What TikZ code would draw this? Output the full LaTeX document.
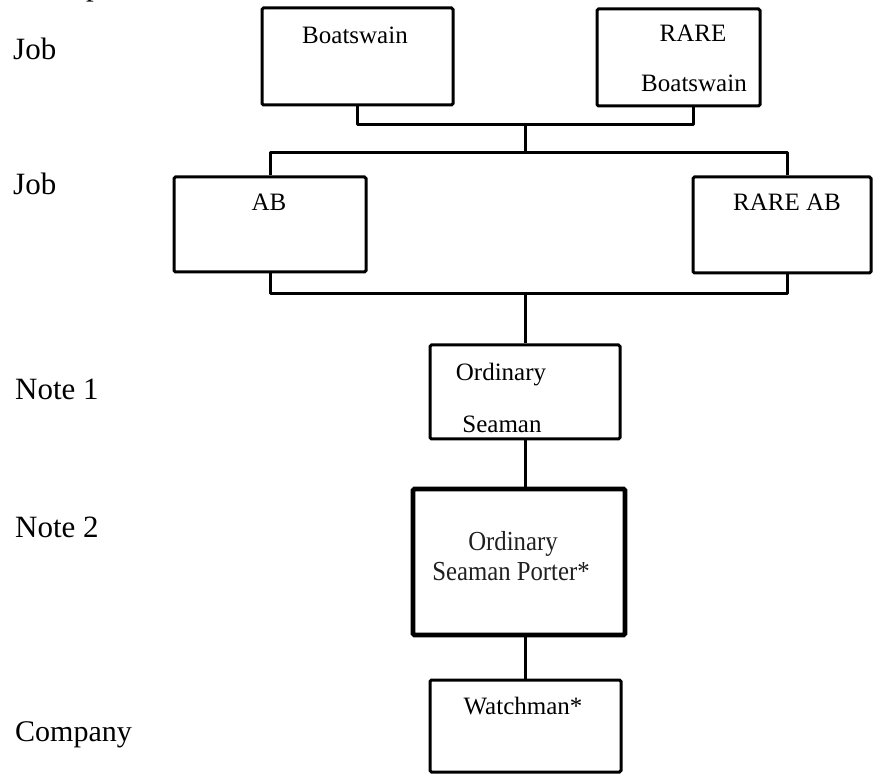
\documentclass[tikz,border=0pt]{standalone}
\usepackage{fontspec}
\setmainfont{Liberation Serif}
\newfontfamily\tallserif[FakeStretch=0.9]{Liberation Serif}

\begin{document}
\begin{tikzpicture}[x=1pt,y=-1pt,
  box/.style={draw, line width=3pt, rounded corners=1.5pt, inner sep=0pt},
  heavybox/.style={box, line width=4.8pt},
  wire/.style={line width=3pt, line join=round},
  rowlabel/.style={anchor=base west, inner sep=0pt, font=\fontsize{31}{31}\selectfont},
  boxtext/.style={anchor=base, inner sep=0pt, font=\fontsize{25}{25}\selectfont},
  tighttext/.style={anchor=base, inner sep=0pt, text=black!88, font=\tallserif\fontsize{27.5}{27.5}\selectfont}]

\useasboundingbox (0,0) rectangle (876,775);

% heading, mostly above the page
\node[rowlabel] (heading) at (86,-4) {p};

% row labels
\node[rowlabel] (rowjobA) at (13,60) {Job};
\node[rowlabel] (rowjobB) at (13,195) {Job};
\node[rowlabel] (rownoteA) at (15,400) {Note 1};
\node[rowlabel] (rownoteB) at (15,537) {Note 2};
\node[rowlabel, font=\fontsize{30}{30}\selectfont] (rowcompany) at (15,741) {Company};

% boxes
\node[box, minimum width=191pt, minimum height=97pt] (bosun) at (357.5,56.5) {};
\node[box, minimum width=163pt, minimum height=97pt] (rbosun) at (678.5,57.5) {};
\node[box, minimum width=192pt, minimum height=95pt] (ab) at (270,224.5) {};
\node[box, minimum width=178pt, minimum height=96pt] (rab) at (782,225) {};
\node[box, minimum width=190pt, minimum height=94pt] (os) at (525,392) {};
\node[heavybox, minimum width=212pt, minimum height=146pt] (osp) at (519,562) {};
\node[box, minimum width=191pt, minimum height=92pt] (watch) at (525.5,726) {};

% box texts
\node[boxtext] (bosunT) at (355,44) {Boatswain};
\node[boxtext] (rbosunA) at (693,42) {RARE};
\node[boxtext] (rbosunB) at (694,92) {Boatswain};
\node[boxtext] (abT) at (269,211) {AB};
\node[boxtext] (rabT) at (787,211) {RARE AB};
\node[boxtext] (osA) at (501,381) {Ordinary};
\node[boxtext] (osB) at (502,433) {Seaman};
\node[tighttext] (ospA) at (513,550) {Ordinary};
\node[tighttext] (ospB) at (511,580) {Seaman Porter*};
\node[boxtext] (watchT) at (523,714) {Watchman*};

% junction points
\coordinate (ja) at (525,125);
\coordinate (jb) at (525,153);
\coordinate (jc) at (525,294);

% connectors
\draw[wire] (bosun.south) |- (ja) -| ([xshift=14.5pt]rbosun.south);
\draw[wire] (ja) -- (jb);
\draw[wire] (ab.north) |- (jb) -| ([xshift=5pt]rab.north);
\draw[wire] (ab.south) |- (jc) -| ([xshift=5pt]rab.south);
\draw[wire] (jc) -- (os.north);
\draw[wire] (os.south) -- (os.south |- osp.north);
\draw[wire] (watch.north |- osp.south) -- (watch.north);
\end{tikzpicture}
\end{document}
